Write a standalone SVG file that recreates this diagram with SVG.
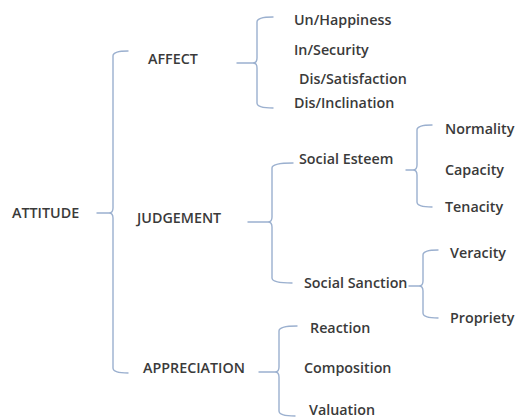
<svg xmlns="http://www.w3.org/2000/svg" width="515" height="419" viewBox="0 0 515 419">
<style>
text{font-family:"Open Sans","Liberation Sans",sans-serif;font-weight:600;font-size:14.3px;fill:#3a3a3a}
.br{fill:none;stroke:#9bb0cf;stroke-width:1.4;stroke-linecap:round;stroke-linejoin:round}
</style>
<rect width="515" height="419" fill="#ffffff"/>
<g id="connectors">
<path class="br" d="M128,51 Q113,51 113,56 L113,208 Q113,213 109,213 L97,213 M109,213 Q113,213 113,218 L113,368 Q113,373 128,373"/>
<path class="br" d="M273,17 Q257,17 257,22 L257,58 Q257,63 253,63 L237,63 M253,63 Q257,63 257,68 L257,103 Q257,108 273,108"/>
<path class="br" d="M293,163 Q272,163 272,168 L272,217 Q272,222 268,222 L248,222 M268,222 Q272,222 272,227 L272,278 Q272,283 292,283"/>
<path class="br" d="M297,326 Q279,326 279,331 L279,367 Q279,372 275,372 L259,372 M275,372 Q279,372 279,377 L279,411 Q279,416 295,416"/>
<path class="br" d="M432,125 Q417,125 417,130 L417,165 Q417,170 413,170 L406,170 M413,170 Q417,170 417,175 L417,202 Q417,207 432,207"/>
<path class="br" d="M438,250 Q423,250 423,255 L423,281 Q423,286 419,286 L409,286 M419,286 Q423,286 423,291 L423,313 Q423,318 438,318"/>
</g>
<g id="attitude"><text x="12" y="218">ATTITUDE</text></g>
<g id="affect"><text x="148" y="64">AFFECT</text></g>
<g id="judgement"><text x="137" y="223">JUDGEMENT</text></g>
<g id="appreciation"><text x="143" y="373">APPRECIATION</text></g>
<g id="unhappiness"><text x="294" y="25">Un/Happiness</text></g>
<g id="insecurity"><text x="294" y="55">In/Security</text></g>
<g id="dissatisfaction"><text x="299" y="84">Dis/Satisfaction</text></g>
<g id="disinclination"><text x="294" y="108">Dis/Inclination</text></g>
<g id="social-esteem"><text x="299" y="164">Social Esteem</text></g>
<g id="social-sanction"><text x="304" y="288">Social Sanction</text></g>
<g id="normality"><text x="445" y="134">Normality</text></g>
<g id="capacity"><text x="445" y="175">Capacity</text></g>
<g id="tenacity"><text x="445" y="212">Tenacity</text></g>
<g id="veracity"><text x="450" y="258">Veracity</text></g>
<g id="propriety"><text x="450" y="323">Propriety</text></g>
<g id="reaction"><text x="310" y="333">Reaction</text></g>
<g id="composition"><text x="304" y="373">Composition</text></g>
<g id="valuation"><text x="309" y="415">Valuation</text></g>
</svg>
